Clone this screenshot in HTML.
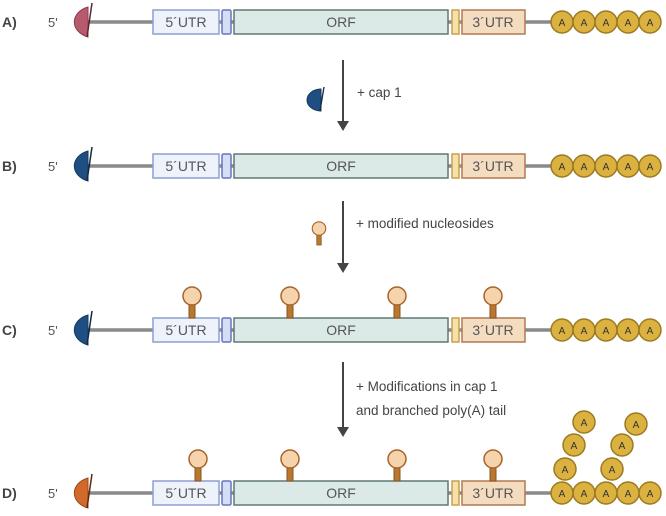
<!DOCTYPE html>
<html><head><meta charset="utf-8"><style>
html,body{margin:0;padding:0;background:#fff}
svg text{font-family:"Liberation Sans",sans-serif}
</style></head><body>
<svg width="666" height="511" viewBox="0 0 666 511" xmlns="http://www.w3.org/2000/svg">
<defs>
<g id="row">
  <line x1="88" y1="0" x2="552" y2="0" stroke="#8a8a8a" stroke-width="3.5"/>
  <rect x="153" y="-12" width="66" height="24" fill="#eef2fb" stroke="#8d9fd2" stroke-width="1.5"/>
  <text x="186" y="5" font-size="14" fill="#555" text-anchor="middle">5´UTR</text>
  <rect x="222" y="-12" width="9" height="24" rx="1.5" fill="#d6def6" stroke="#6677bb" stroke-width="1.5"/>
  <rect x="234" y="-12" width="214" height="24" fill="#dbeae6" stroke="#5f7a72" stroke-width="1.5"/>
  <text x="341" y="5" font-size="14" fill="#555" text-anchor="middle">ORF</text>
  <rect x="452" y="-12" width="7" height="24" fill="#f6e2a8" stroke="#c9a050" stroke-width="1.5"/>
  <rect x="462" y="-12" width="63" height="24" fill="#f4dcc0" stroke="#b27a52" stroke-width="1.5"/>
  <text x="493" y="5" font-size="14" fill="#555" text-anchor="middle">3´UTR</text>
</g>
<g id="a">
  <circle r="11" fill="#dbb13f" stroke="#9c7a22" stroke-width="1.5"/>
  <text y="4" font-size="10" fill="#333" text-anchor="middle">A</text>
</g>
<g id="tail">
  <use href="#a" x="562"/><use href="#a" x="584"/><use href="#a" x="606"/><use href="#a" x="628"/><use href="#a" x="650"/>
</g>
<g id="lol">
  <rect x="-3" y="-14" width="6" height="14" fill="#b8782e" stroke="#8a5520" stroke-width="1"/>
  <circle cx="0" cy="-22" r="9" fill="#f5d3ac" stroke="#a8642a" stroke-width="1.5"/>
</g>
<path id="cap" d="M88,-15 A21,16 0 0 0 88,15 Z"/>
</defs>

<g font-size="14" font-weight="bold" fill="#444">
<text x="2" y="27">A)</text><text x="2" y="171">B)</text><text x="2" y="335">C)</text><text x="2" y="498">D)</text>
</g>
<g font-size="13" fill="#555">
<text x="48" y="27">5'</text><text x="48" y="171">5'</text><text x="48" y="335">5'</text><text x="48" y="498">5'</text>
</g>

<g transform="translate(0,22)">
<use href="#row"/><use href="#cap" fill="#b85a6e" stroke="#8a3d50"/><line x1="87" y1="15" x2="92" y2="-19" stroke="#5a2a38" stroke-width="1.5"/><use href="#tail"/>
</g>
<g transform="translate(0,166)">
<use href="#row"/><use href="#cap" fill="#1f4e82" stroke="#163a60"/><line x1="87" y1="15" x2="92" y2="-19" stroke="#162a40" stroke-width="1.5"/><use href="#tail"/>
</g>
<g transform="translate(0,330)">
<use href="#row"/><use href="#cap" fill="#1f4e82" stroke="#163a60"/><line x1="87" y1="15" x2="92" y2="-19" stroke="#162a40" stroke-width="1.5"/><use href="#tail"/>
<use href="#lol" x="192" y="-12"/><use href="#lol" x="290" y="-12"/><use href="#lol" x="397" y="-12"/><use href="#lol" x="493" y="-12"/>
</g>
<g transform="translate(0,493)">
<use href="#row"/><use href="#cap" fill="#d2692b" stroke="#9a4a1c"/><line x1="87" y1="15" x2="92" y2="-19" stroke="#5a2a14" stroke-width="1.5"/><use href="#tail"/>
<use href="#lol" x="198" y="-12"/><use href="#lol" x="290" y="-12"/><use href="#lol" x="397" y="-12"/><use href="#lol" x="493" y="-12"/>
<use href="#a" x="565" y="-24"/><use href="#a" x="574" y="-48"/><use href="#a" x="584" y="-71"/>
<use href="#a" x="612" y="-24"/><use href="#a" x="622" y="-48"/><use href="#a" x="636" y="-69"/>
</g>

<g stroke="#444" stroke-width="2" fill="#444">
<line x1="343" y1="60" x2="343" y2="122"/><path d="M337,121 L349,121 L343,131 Z" stroke="none"/>
<line x1="343" y1="201" x2="343" y2="264"/><path d="M337,263 L349,263 L343,273 Z" stroke="none"/>
<line x1="343" y1="362" x2="343" y2="428"/><path d="M337,427 L349,427 L343,437 Z" stroke="none"/>
</g>
<g font-size="13.5" fill="#444">
<text x="357" y="97">+ cap 1</text>
<text x="356" y="228">+ modified nucleosides</text>
<text x="356" y="391">+ Modifications in cap 1</text>
<text x="356" y="415">and branched poly(A) tail</text>
</g>
<g transform="translate(233,100)"><path d="M88,-11 A14,11 0 0 0 88,11 Z" fill="#1f4e82" stroke="#163a60"/><line x1="87" y1="11" x2="91" y2="-13" stroke="#162a40" stroke-width="1.3"/></g>
<g transform="translate(319,245) scale(0.75)"><use href="#lol"/></g>
</svg>
</body></html>
